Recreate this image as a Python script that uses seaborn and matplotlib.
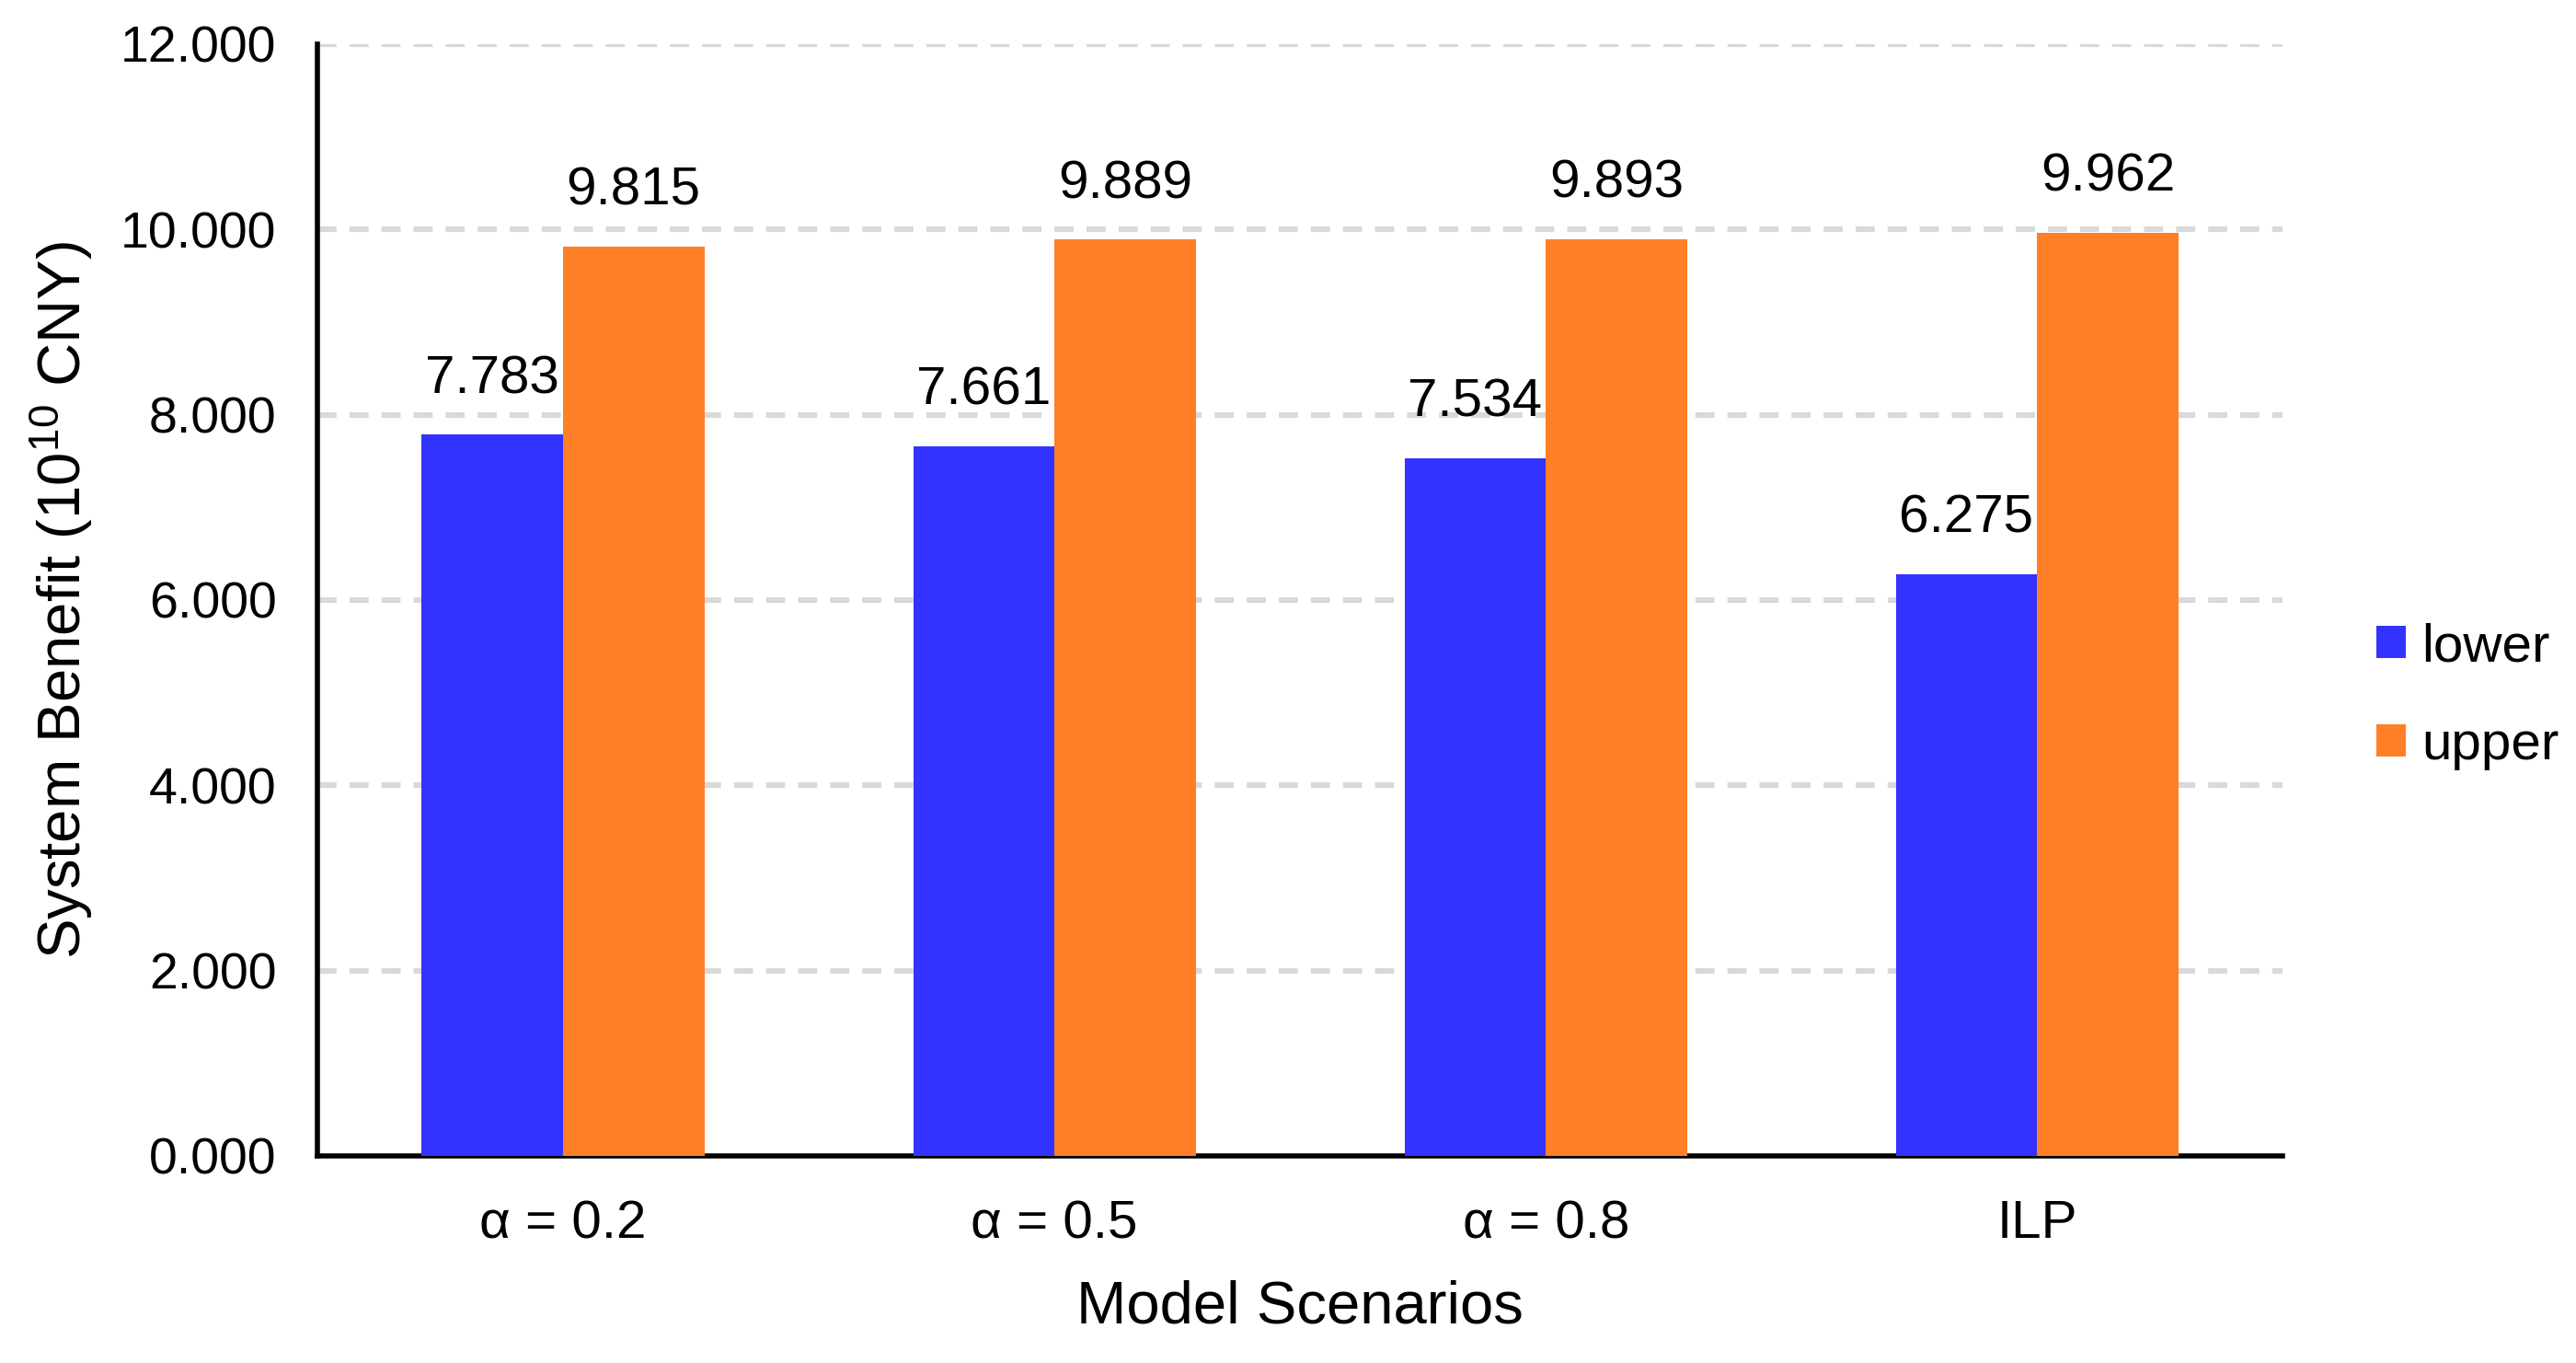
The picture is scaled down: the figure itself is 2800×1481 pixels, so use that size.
"""System benefit by model scenario: lower vs upper bounds."""
import matplotlib
import pandas as pd
import seaborn as sns

matplotlib.use("Agg")
import matplotlib.pyplot as plt

SCENARIOS = ["α = 0.2", "α = 0.5", "α = 0.8", "ILP"]
LOWER = [7.783, 7.661, 7.534, 6.275]
UPPER = [9.815, 9.889, 9.893, 9.962]
BOUNDS = ["lower", "upper"]
COLORS = {"lower": "#3333FF", "upper": "#FF7F27"}
Y_TICKS = [0, 2, 4, 6, 8, 10, 12]


def build_frame() -> pd.DataFrame:
    rows = []
    for name, vals in zip(BOUNDS, [LOWER, UPPER]):
        for sc, v in zip(SCENARIOS, vals):
            rows.append({"scenario": sc, "bound": name, "benefit": v})
    return pd.DataFrame(rows)


def main() -> None:
    sns.set_theme(style="white")
    plt.rcParams["font.family"] = ["Liberation Sans", "DejaVu Sans"]
    plt.rcParams["mathtext.default"] = "regular"
    plt.rcParams["text.color"] = "black"
    plt.rcParams["axes.labelcolor"] = "black"
    plt.rcParams["xtick.color"] = "black"
    plt.rcParams["ytick.color"] = "black"

    df = build_frame()
    fig = plt.figure(figsize=(14, 7.405), dpi=200)
    ax = fig.add_axes([0.1232, 0.152, 0.763, 0.8156])
    sns.barplot(
        data=df,
        x="scenario",
        y="benefit",
        hue="bound",
        hue_order=BOUNDS,
        order=SCENARIOS,
        palette=COLORS,
        width=0.575,
        gap=0,
        saturation=1,
        linewidth=0,
        ax=ax,
        zorder=3,
    )
    for cont in ax.containers:
        ax.bar_label(cont, fmt="%.3f", padding=12, fontsize=21, color="black")

    ax.set_xlim(-0.5, 3.5)
    ax.set_ylim(0, 12)
    ax.set_yticks(Y_TICKS)
    ax.set_yticklabels([f"{t:.3f}" for t in Y_TICKS])
    for t in Y_TICKS[1:]:
        ax.axhline(t, color="#d9d9d9", lw=2.2, ls=(0, (3.4, 2.3)), zorder=1)
    ax.tick_params(axis="y", length=0, pad=16, labelsize=20)
    ax.tick_params(axis="x", length=0, pad=17, labelsize=21)

    for side in ["top", "right"]:
        ax.spines[side].set_visible(False)
    for side in ["left", "bottom"]:
        ax.spines[side].set_color("black")
        ax.spines[side].set_linewidth(2.0)

    ax.set_xlabel("Model Scenarios", fontsize=23.5, labelpad=12)
    ax.set_ylabel("System Benefit (10$^{10}$ CNY)", fontsize=23.5, labelpad=10)

    handles, labels = ax.get_legend_handles_labels()
    ax.legend_.remove()
    fig.legend(
        handles,
        labels,
        loc="center left",
        bbox_to_anchor=(0.9225, 0.489),
        frameon=False,
        fontsize=21,
        handlelength=0.55,
        handleheight=0.55,
        handletextpad=0.3,
        labelspacing=0.9,
        borderpad=0,
        borderaxespad=0,
    )

    fig.savefig("out.png", dpi=200)
    plt.close(fig)


if __name__ == "__main__":
    main()
